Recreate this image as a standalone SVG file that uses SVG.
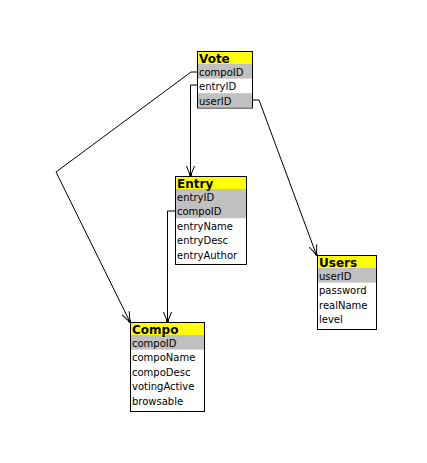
<svg xmlns="http://www.w3.org/2000/svg" width="427" height="463" viewBox="0 0 427 463">
<style>
.box{fill:#fff;stroke:#000;stroke-width:1}
.hd{fill:#ffff00}
.gr{fill:#c0c0c0}
.t{font-family:"DejaVu Sans",sans-serif;font-size:10px;fill:#000}
.h{font-family:"DejaVu Sans",sans-serif;font-size:12px;font-weight:bold;fill:#000}
.c{fill:none;stroke:#000;stroke-width:1}
</style>
<defs>
<marker id="arr" markerUnits="userSpaceOnUse" markerWidth="14" markerHeight="12" refX="0" refY="0" viewBox="-12 -6 14 12" orient="auto" overflow="visible">
<path d="M-10,-4 L0,0 L-10,4" fill="none" stroke="#000" stroke-width="1"/>
<circle cx="-1" cy="0" r="1.5" fill="#000"/>
</marker>
</defs>
<rect width="427" height="463" fill="#fff"/>
<g id="connectors">
<polyline class="c" points="197,72 191,72 56,172 130,322" marker-end="url(#arr)"/>
<polyline class="c" points="197,85 190.5,85 190.5,176" marker-end="url(#arr)"/>
<polyline class="c" points="175,211 167.5,211 167.5,322" marker-end="url(#arr)"/>
<polyline class="c" points="252,100 259,100 316.5,255" marker-end="url(#arr)"/>
</g>
<g id="Vote">
<rect class="box" x="197.5" y="51.5" width="55" height="56.5"/>
<rect class="hd" x="198" y="52" width="54" height="12"/>
<rect class="gr" x="198" y="64" width="54" height="14.6"/>
<rect class="gr" x="198" y="93.2" width="54" height="14.3"/>
<text class="h" x="199" y="62.5">Vote</text>
<text class="t" x="199" y="75.5">compoID</text>
<text class="t" x="199" y="90">entryID</text>
<text class="t" x="199" y="104.5">userID</text>
</g>
<g id="Entry">
<rect class="box" x="175.5" y="176.5" width="71" height="88"/>
<rect class="hd" x="176" y="177" width="70" height="12"/>
<rect class="gr" x="176" y="189" width="70" height="29.2"/>
<text class="h" x="177" y="187.5">Entry</text>
<text class="t" x="177" y="200.5">entryID</text>
<text class="t" x="177" y="215">compoID</text>
<text class="t" x="177" y="229.5">entryName</text>
<text class="t" x="177" y="244">entryDesc</text>
<text class="t" x="177" y="258.5">entryAuthor</text>
</g>
<g id="Compo">
<rect class="box" x="130.5" y="322.5" width="74" height="89"/>
<rect class="hd" x="131" y="323" width="73" height="12"/>
<rect class="gr" x="131" y="335" width="73" height="14.6"/>
<text class="h" x="132" y="333.5">Compo</text>
<text class="t" x="132" y="346.5">compoID</text>
<text class="t" x="132" y="361">compoName</text>
<text class="t" x="132" y="375.5">compoDesc</text>
<text class="t" x="132" y="390">votingActive</text>
<text class="t" x="132" y="404.5">browsable</text>
</g>
<g id="Users">
<rect class="box" x="317.5" y="255.5" width="59" height="74"/>
<rect class="hd" x="318" y="256" width="58" height="12"/>
<rect class="gr" x="318" y="268" width="58" height="14.6"/>
<text class="h" x="319" y="266.5">Users</text>
<text class="t" x="319" y="279.5">userID</text>
<text class="t" x="319" y="294">password</text>
<text class="t" x="319" y="308.5">realName</text>
<text class="t" x="319" y="323">level</text>
</g>
</svg>
